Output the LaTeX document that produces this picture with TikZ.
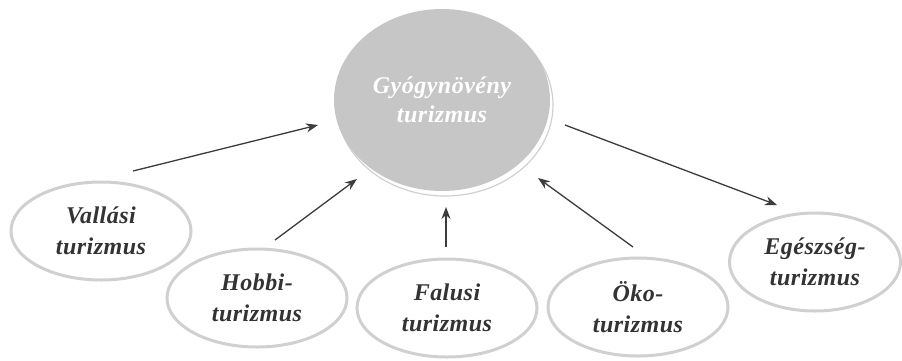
\documentclass[tikz,border=0pt]{standalone}
\usepackage{fontspec}
\setmainfont{Liberation Serif}
\newfontfamily\labfont[LetterSpace=2]{Liberation Serif}
\usetikzlibrary{shapes.geometric,arrows.meta}
\definecolor{txt}{HTML}{333333}
\definecolor{rim}{HTML}{D0D0D0}
\definecolor{hub}{HTML}{C6C6C6}
\definecolor{arr}{HTML}{3C3C3C}
\tikzset{
  leaf/.style={ellipse, draw=rim, line width=3pt, fill=white, inner sep=0pt,
    minimum width=180pt, minimum height=98pt, align=center, text=txt,
    font=\labfont\fontsize{24}{31}\selectfont\bfseries\itshape},
  hubnode/.style={ellipse, fill=hub, inner sep=0pt, minimum width=216pt,
    minimum height=182pt, align=center, text=white,
    font=\labfont\fontsize{24}{29}\selectfont\bfseries\itshape},
  hubshadow/.style={ellipse, fill=white, draw=rim, line width=1.2pt, inner sep=0pt,
    minimum width=216pt, minimum height=182pt},
  link/.style={draw=arr, line width=1.3pt, -{Stealth[length=12pt,width=9pt]}}
}
\begin{document}
\begin{tikzpicture}[x=1pt,y=-1pt]
\useasboundingbox (0,0) rectangle (902,360);
\fill[white] (0,0) rectangle (902,360);
% hub
\node[hubshadow] (hs) at (445,105) {};
\node[hubnode] (c) at (442,100) {Gyógynövény\\turizmus};
% leaves
\node[leaf] (v) at (101,231) {Vallási\\turizmus};
\node[leaf] (h) at (257,298) {Hobbi-\\turizmus};
\node[leaf] (f) at (447,308) {Falusi\\turizmus};
\node[leaf] (o) at (638,307) {Öko-\\turizmus};
\node[leaf, minimum width=171pt] (e) at (815,262) {Egészség-\\turizmus};
% connector ends
\coordinate (v1) at (133,171); \coordinate (v2) at (318,125);
\coordinate (h1) at (275,240); \coordinate (h2) at (357,179);
\coordinate (f1) at (446,247); \coordinate (f2) at (446,207);
\coordinate (o1) at (633,247); \coordinate (o2) at (538,178);
\coordinate (e1) at (565,125); \coordinate (e2) at (777,205);
\draw[link] (v1) -- (v2);
\draw[link] (h1) -- (h2);
\draw[link] (f1) -- (f2);
\draw[link] (o1) -- (o2);
\draw[link] (e1) -- (e2);
\end{tikzpicture}
\end{document}
